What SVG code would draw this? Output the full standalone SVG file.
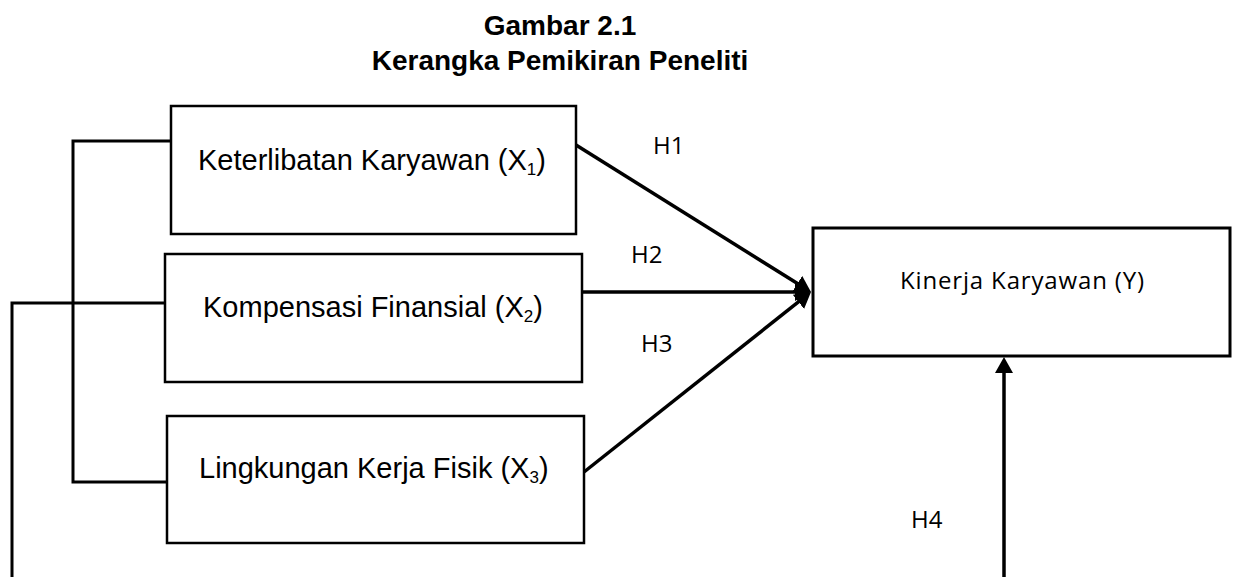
<svg xmlns="http://www.w3.org/2000/svg" width="1238" height="577" viewBox="0 0 1238 577">
<style>
.box{fill:#fff;stroke:#000;stroke-width:2.5}
.t{font-family:"Liberation Sans",Arial,sans-serif;font-size:29px;fill:#000}
.title{font-family:"Liberation Sans",Arial,sans-serif;font-size:28px;font-weight:bold;fill:#000;text-anchor:middle}
.c{font-family:"Open Sans","Noto Sans",sans-serif;font-size:24px;fill:#000}
.ln{fill:none;stroke:#000;stroke-width:3.5}
.lk{fill:none;stroke:#000;stroke-width:3}
</style>
<defs>
<marker id="ah" markerUnits="userSpaceOnUse" markerWidth="18" markerHeight="18" viewBox="0 0 18 18" refX="10" refY="9" orient="auto">
<path d="M0,0 L16,9 L0,18 z" fill="#000"/>
</marker>
</defs>
<g id="title">
<text class="title" x="560" y="35">Gambar 2.1</text>
<text class="title" x="560" y="70">Kerangka Pemikiran Peneliti</text>
</g>
<g id="connectors">
<polyline class="lk" points="171,141 73,141 73,482 167,482"/>
<polyline class="lk" points="165,303 12,303 12,577"/>
<line class="ln" x1="576" y1="145" x2="805.9" y2="288.8" marker-end="url(#ah)"/>
<line class="ln" x1="582" y1="292" x2="805" y2="292" marker-end="url(#ah)"/>
<line class="ln" x1="584" y1="472" x2="806.3" y2="295.7" marker-end="url(#ah)"/>
<line class="ln" x1="1004" y1="577" x2="1004" y2="363" marker-end="url(#ah)"/>
<text class="c" x="653" y="154">H1</text>
<text class="c" x="631" y="263">H2</text>
<text class="c" x="641" y="352">H3</text>
<text class="c" x="911" y="528">H4</text>
</g>
<g id="x1">
<rect class="box" x="171" y="106" width="405" height="128"/>
<text class="t" x="198" y="170">Keterlibatan Karyawan (X<tspan font-size="17" dy="5">1</tspan><tspan dy="-5">)</tspan></text>
</g>
<g id="x2">
<rect class="box" x="165" y="254" width="417" height="128"/>
<text class="t" x="203" y="317">Kompensasi Finansial (X<tspan font-size="17" dy="5">2</tspan><tspan dy="-5">)</tspan></text>
</g>
<g id="x3">
<rect class="box" x="167" y="416" width="417" height="127"/>
<text class="t" x="199" y="478">Lingkungan Kerja Fisik (X<tspan font-size="17" dy="5">3</tspan><tspan dy="-5">)</tspan></text>
</g>
<g id="y">
<rect class="box" x="813" y="228" width="417" height="128" style="stroke-width:3"/>
<text class="c" x="900" y="289" font-size="26" textLength="244">Kinerja Karyawan (Y)</text>
</g>
</svg>
